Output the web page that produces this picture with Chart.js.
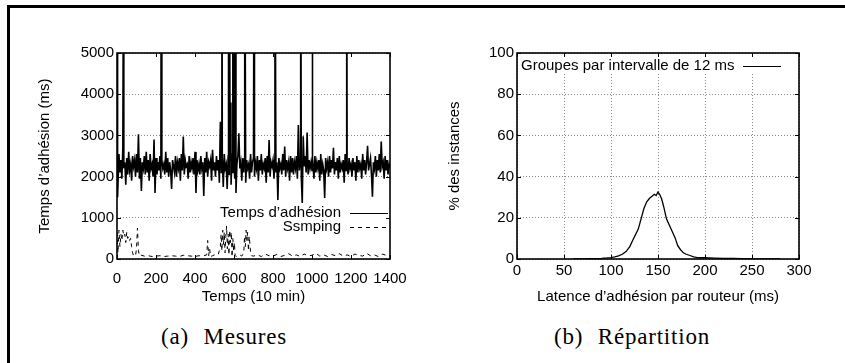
<!DOCTYPE html>
<html lang="fr">
<head>
    <meta charset="UTF-8">
    <title>Temps d'adhésion</title>

    <script src="https://cdn.jsdelivr.net/npm/chart.js"></script>

    <style>
        body { margin:0; width:845px; height:363px; position:relative; overflow:hidden; background:#fff;
               font-family:"Liberation Sans", Arial, sans-serif; color:#000; }
        .frame { position:absolute; left:7px; top:5px; width:900px; height:400px;
                 border-top:3px solid #000; border-left:3px solid #000; }
        canvas { position:absolute; top:0; }
        #chartA { left:0; }
        #chartB { left:420px; }
        .key { position:absolute; font-size:15px; white-space:nowrap; line-height:16px; text-align:right; }
        .sample { display:inline-block; width:38px; height:1px; vertical-align:middle; margin-left:9px; background:#000; }
        .sample.dash { background:repeating-linear-gradient(90deg,#000 0 4px,transparent 4px 8px); }
        .caption { position:absolute; top:324px; font-family:"Liberation Serif", serif; font-size:23px;
                   text-align:center; word-spacing:8px; letter-spacing:0.8px; }
    </style>

    <script type="text/javascript">
        // (a) temps d'adhesion, un point toutes les 5 unites (0..1400)
        var adhesionStep = 5;
        var adhesion = [
            2150,1500,2550,2100,2400,1950,2700,2200,2350,1800,2450,2050,2600,2150,2300,1900,2500,2250,2400,2000,
            2550,2100,3030,1950,2450,1650,2350,2200,2500,2050,2600,2100,2400,1900,2550,2200,2300,2000,2900,1600,
            2450,2050,2350,2150,2500,1950,2400,2200,2300,2050,2600,2100,2450,2000,2350,2150,1700,2400,2250,2100,
            2500,2000,2350,2200,2450,1900,2550,2150,2970,2050,2400,2250,2300,1950,2500,2100,2350,2200,2450,2050,
            2600,1600,2400,2150,2300,2050,2500,2200,2350,1530,2450,2100,2600,2000,2350,2250,2400,1900,2650,2150,
            2350,2000,2500,2150,2400,1850,3330,2100,2450,1750,2550,2200,2300,1700,2500,2050,2400,1800,2550,2100,
            2400,1950,1600,2300,2500,3050,2200,2350,1900,2450,2100,2500,1850,2400,2200,2300,1950,2550,2100,2350,
            2450,2000,2350,2200,2500,1900,2400,2150,2550,2050,2300,2200,2450,1850,2500,2100,2890,2000,2350,2250,
            2400,1950,2500,2100,2350,1430,2450,2200,2300,2050,2550,2150,2730,2000,2400,2200,2350,1900,2500,2100,
            2450,2050,2350,2200,2500,1950,3250,2150,2400,2000,1360,2980,2250,2500,2100,3070,2050,2400,2200,2350,
            2150,2450,1950,2500,2100,2350,2200,2400,1900,2550,2050,2300,2150,1480,2450,2200,2350,2000,2500,2100,
            2400,2200,2700,2050,2350,2150,2450,1950,2500,2100,2300,2200,2400,1850,2550,2150,2350,2050,2450,2200,
            2300,2000,2450,2150,2350,1900,2500,2100,2400,2200,2300,1950,2550,2150,2400,2050,2350,2750,2150,2300,
            2450,2050,1510,2350,2200,2500,2000,2400,2150,2550,2100,2850,2250,2350,1950,2500,2150,2400,2050,2300,
            2200
        ];
        // pics (hors echelle au-dessus de 5000)
        var spikeX = [1, 34, 227, 538, 572, 576, 584, 594, 598, 603, 606, 655, 703, 810, 942, 1000, 1178];
        var spikeY = [9000, 9000, 9000, 9000, 9000, 9000, 3800, 9000, 9000, 9000, 9000, 9000, 9000, 9000, 9000, 9000, 9000];

        // ssmping
        var ssX = [0,5,10,15,20,25,30,35,40,45,50,55,60,65,70,75,80,85,90,95,100,105,110,115,120,
                   140,160,180,200,220,240,260,280,300,320,340,360,380,400,420,440,
                   460,465,470,475,480,490,500,510,520,
                   530,534,538,542,546,550,554,558,562,566,570,574,578,582,586,590,594,598,602,606,610,
                   620,630,640,
                   650,654,658,662,666,670,674,678,682,686,690,
                   700,720,740,760,780,800,820,840,860,880,900,920,940,960,980,1000,1020,1040,1060,1080,
                   1100,1120,1140,1160,1180,1200,1220,1240,1260,1280,1300,1320,1340,1360,1380,1400];
        var ssY = [650,150,700,300,600,450,700,550,600,400,650,500,550,450,500,300,150,80,70,80,250,750,200,80,100,
                   70,80,60,70,80,60,70,80,70,60,90,80,70,60,80,70,
                   100,450,80,250,60,80,100,80,120,
                   300,600,200,700,350,650,150,550,800,250,600,100,700,400,650,50,500,200,400,80,60,
                   80,100,70,
                   150,550,300,700,450,650,200,550,350,100,80,
                   70,100,60,120,80,70,110,60,90,130,70,100,60,120,80,90,140,70,100,60,
                   110,80,130,70,100,60,120,90,70,140,80,100,60,120,90,70];

        // (b) repartition
        var latenceX = [60,70,80,90,96,100,104,108,112,116,120,123,126,129,132,135,138,141,144,146,148,150,152,154,156,
                        159,162,165,168,171,174,177,180,184,188,192,196,200,210,220,230,240,250,260,270,280];
        var latenceY = [0,0.1,0.2,0.3,0.5,0.7,1.0,1.5,2.3,3.6,6.0,9.0,11.8,14.5,19.5,24.5,27.8,29.5,30.6,31.4,30.8,32.5,31.2,29.0,25.5,
                        19.5,16.5,13.5,10.5,6.5,4.5,3.0,2.3,1.7,1.0,0.7,0.6,0.6,0.4,0.3,0.3,0.2,0.1,0.1,0.1,0];

        var xTicksA = [0,200,400,600,800,1000,1200,1400];
        var yTicksA = [0,1000,2000,3000,4000,5000];
        var xTicksB = [0,50,100,150,200,250,300];
        var yTicksB = [0,20,40,60,80,100];

        // cadre, petites graduations interieures et fond blanc de la legende
        var cadre = {
            id: 'cadre',
            beforeDatasetsDraw: function(chart, args, opts) {
                var a = chart.chartArea, ctx = chart.ctx;
                ctx.save();
                ctx.fillStyle = '#fff';
                ctx.fillRect(a.left + opts.key[0], a.top + opts.key[1], a.right - a.left - opts.key[0] - opts.key[2], opts.key[3]);
                ctx.restore();
            },
            afterDraw: function(chart) {
                var a = chart.chartArea, ctx = chart.ctx, sx = chart.scales.x, sy = chart.scales.y;
                ctx.save();
                ctx.strokeStyle = '#000';
                ctx.lineWidth = 1;
                ctx.beginPath();
                sx.ticks.forEach(function(t) {
                    var p = Math.round(sx.getPixelForValue(t.value)) + 0.5;
                    ctx.moveTo(p, a.bottom); ctx.lineTo(p, a.bottom - 4);
                    ctx.moveTo(p, a.top); ctx.lineTo(p, a.top + 4);
                });
                sy.ticks.forEach(function(t) {
                    var p = Math.round(sy.getPixelForValue(t.value)) + 0.5;
                    ctx.moveTo(a.left, p); ctx.lineTo(a.left + 4, p);
                    ctx.moveTo(a.right, p); ctx.lineTo(a.right - 4, p);
                });
                ctx.stroke();
                ctx.lineWidth = 1.6;
                ctx.strokeRect(a.left, a.top, a.right - a.left, a.bottom - a.top);
                ctx.restore();
            }
        };

        function axe(min, max, ticks, title, titlePad, opts) {
            return Object.assign({
                type: 'linear', min: min, max: max,
                afterBuildTicks: function(s) { s.ticks = ticks.map(function(v) { return {value: v}; }); },
                border: { display: false, dash: [1, 2] },
                ticks: { color: '#000', font: { family: 'Liberation Sans', size: 15 }, maxRotation: 0, autoSkip: false,
                         callback: function(v) { return String(v); } },
                title: { display: true, text: title, color: '#000', font: { family: 'Liberation Sans', size: 15 }, padding: titlePad }
            }, opts);
        }
        var grille = { color: '#8a8a8a', lineWidth: 1, drawTicks: false };

        window.onload = function() {
            var pts = adhesion.map(function(v, i) { return {x: i * adhesionStep, y: v}; });
            spikeX.forEach(function(x, i) { pts.push({x: x, y: spikeY[i]}); });
            pts.sort(function(p, q) { return p.x - q.x; });

            new Chart(document.querySelector('#chartA'), {
                type: 'line',
                data: {
                    datasets: [
                        { data: pts, borderColor: '#000', borderWidth: 1.6, pointRadius: 0, tension: 0 },
                        { data: ssX.map(function(x, i) { return {x: x, y: ssY[i]}; }),
                          borderColor: '#000', borderWidth: 1, borderDash: [4, 4], pointRadius: 0, tension: 0 }
                    ]
                },
                options: {
                    responsive: false, animation: false, devicePixelRatio: 1,
                    layout: { padding: { top: 53, right: 30, left: 0, bottom: 0 } },
                    plugins: { legend: { display: false }, tooltip: { enabled: false }, cadre: { key: [82, 151, 0, 30] } },
                    scales: {
                        x: axe(0, 1400, xTicksA, 'Temps (10 min)', { top: 0, bottom: 4 }, {
                            grid: { display: false },
                            afterFit: function(s) { s.height = 51; }
                        }),
                        y: axe(0, 5000, yTicksA, 'Temps d\u2019adhésion (ms)', { top: 36, bottom: 0 }, {
                            grid: grille,
                            afterFit: function(s) { s.width = 117; }
                        })
                    }
                },
                plugins: [cadre]
            });
            new Chart(document.querySelector('#chartB'), {
                type: 'line',
                data: {
                    datasets: [
                        { data: latenceX.map(function(x, i) { return {x: x, y: latenceY[i]}; }),
                          borderColor: '#000', borderWidth: 1.3, pointRadius: 0, tension: 0 }
                    ]
                },
                options: {
                    responsive: false, animation: false, devicePixelRatio: 1,
                    layout: { padding: { top: 53, right: 46, left: 0, bottom: 0 } },
                    plugins: { legend: { display: false }, tooltip: { enabled: false }, cadre: { key: [1, 1, 1, 19] } },
                    scales: {
                        x: axe(0, 300, xTicksB, 'Latence d\u2019adhésion par routeur (ms)', { top: 0, bottom: 4 }, {
                            grid: grille,
                            afterFit: function(s) { s.height = 51; }
                        }),
                        y: axe(0, 100, yTicksB, '% des instances', { top: 26, bottom: 0 }, {
                            grid: grille,
                            afterFit: function(s) { s.width = 97; }
                        })
                    }
                },
                plugins: [cadre]
            });
        };
    </script>
</head>
<body>
    <div class="frame"></div>
    <canvas id="chartA" width="420" height="310"></canvas>
    <canvas id="chartB" width="425" height="310"></canvas>

    <div class="key" style="right:457px; top:204px;">Temps d’adhésion<span class="sample"></span></div>
    <div class="key" style="right:457px; top:218px;">Ssmping<span class="sample dash"></span></div>
    <div class="key" style="left:521px; top:57px;">Groupes par intervalle de 12 ms<span class="sample"></span></div>

    <div class="caption" style="left:119px; width:210px;">(a) Mesures</div>
    <div class="caption" style="left:527px; width:210px;">(b) Répartition</div>
</body>
</html>
